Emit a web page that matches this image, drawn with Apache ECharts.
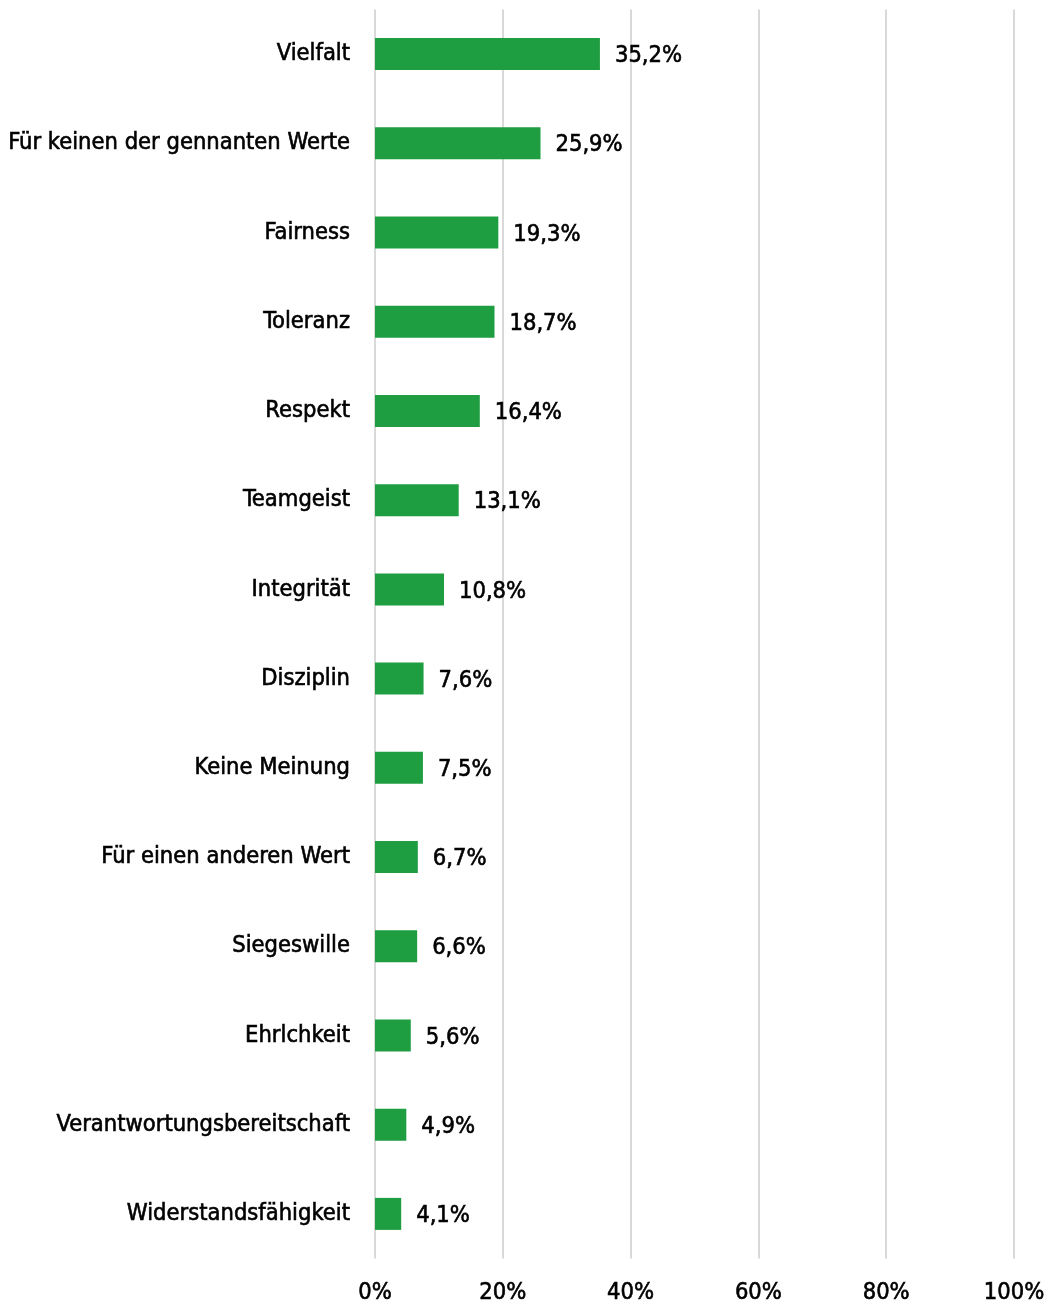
<!DOCTYPE html>
<html>
<head>
<meta charset="utf-8">
<script src="https://cdn.jsdelivr.net/npm/echarts@6/dist/echarts.min.js"></script>
<style>
  html, body { margin: 0; padding: 0; background: #ffffff; }
  #chart { width: 1049px; height: 1306px; }
</style>
</head>
<body>
<div id="chart"></div>
<script>
// Werte, für die der Sport stehen soll (Anteile in Prozent)
const categories = [
  'Vielfalt',
  'Für keinen der gennanten Werte',
  'Fairness',
  'Toleranz',
  'Respekt',
  'Teamgeist',
  'Integrität',
  'Disziplin',
  'Keine Meinung',
  'Für einen anderen Wert',
  'Siegeswille',
  'Ehrlchkeit',
  'Verantwortungsbereitschaft',
  'Widerstandsfähigkeit'
];
const values = [35.2, 25.9, 19.3, 18.7, 16.4, 13.1, 10.8, 7.6, 7.5, 6.7, 6.6, 5.6, 4.9, 4.1];
const xTicks = [0, 20, 40, 60, 80, 100];

const FONT = '"DejaVu Sans Condensed", "Liberation Sans Narrow", sans-serif';
const FONT_SIZE = 23.5;
// a thin outline gives the condensed face a medium weight
const TEXT_WEIGHT = { textBorderColor: '#000000', textBorderWidth: 0.6 };
const fmt = v => v.toFixed(1).replace('.', ',') + '%';

const chart = echarts.init(document.getElementById('chart'), null, { renderer: 'canvas' });
chart.setOption({
  animation: false,
  backgroundColor: '#ffffff',
  grid: {
    left: 375, right: 35, top: 9.5, bottom: 47.5,
    containLabel: false,
    outerBoundsMode: 'none'
  },
  xAxis: {
    type: 'value',
    min: xTicks[0],
    max: xTicks[xTicks.length - 1],
    interval: 20,
    axisLine: { show: false },
    axisTick: { show: false },
    splitLine: { show: true, lineStyle: { color: '#d9d9d9', width: 2 } },
    axisLabel: Object.assign({
      margin: 22,
      color: '#000000',
      fontFamily: FONT,
      fontSize: FONT_SIZE,
      formatter: v => v + '%'
    }, TEXT_WEIGHT)
  },
  yAxis: {
    type: 'category',
    data: categories,
    inverse: true,
    axisLine: { show: false },
    axisTick: { show: false },
    splitLine: { show: false },
    axisLabel: Object.assign({
      margin: 25,
      color: '#000000',
      fontFamily: FONT,
      fontSize: FONT_SIZE,
      padding: [3, 0, 0, 0]
    }, TEXT_WEIGHT)
  },
  series: [{
    type: 'bar',
    data: values,
    barWidth: 32,
    itemStyle: { color: '#1e9e40' },
    label: Object.assign({
      show: true,
      position: 'right',
      distance: 15,
      offset: [0, 2],
      color: '#000000',
      fontFamily: FONT,
      fontSize: FONT_SIZE,
      formatter: p => fmt(p.value)
    }, TEXT_WEIGHT)
  }]
});
</script>
</body>
</html>
